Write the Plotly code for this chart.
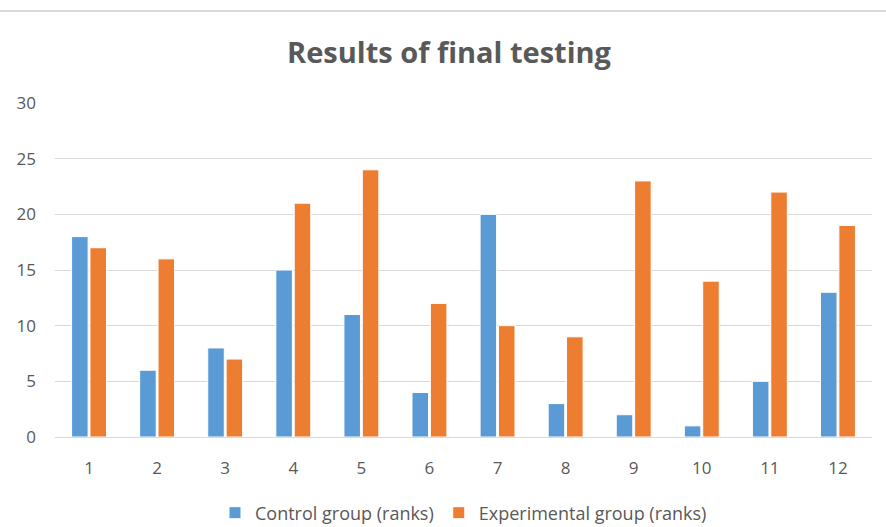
import plotly.graph_objects as go

categories = ["1", "2", "3", "4", "5", "6", "7", "8", "9", "10", "11", "12"]
control = [18, 6, 8, 15, 11, 4, 20, 3, 2, 1, 5, 13]
experimental = [17, 16, 7, 21, 24, 12, 10, 9, 23, 14, 22, 19]

W, H = 886, 527
L, R, T, B = 55, 14, 103, 90
PH = H - T - B

fig = go.Figure()
fig.add_trace(go.Bar(x=categories, y=control, name="Control group (ranks)",
                     marker=dict(color="#5B9BD5", line=dict(color="white", width=1))))
fig.add_trace(go.Bar(x=categories, y=experimental, name="Experimental group (ranks)",
                     marker=dict(color="#ED7D31", line=dict(color="white", width=1))))

fig.update_layout(
    width=W, height=H,
    margin=dict(l=L, r=R, t=T, b=B),
    paper_bgcolor="white", plot_bgcolor="white",
    barmode="group", bargap=0.46, bargroupgap=0.1,
    title=dict(text="Results of final testing", xref="container", x=449/W, xanchor="center",
               yref="container", y=1 - 53/H, yanchor="middle",
               font=dict(family="Open Sans", size=29, color="#595959", weight="bold")),
    font=dict(family="Open Sans", color="#595959"),
    xaxis=dict(showgrid=False, showline=True, linecolor="#D9D9D9", linewidth=1,
               tickfont=dict(size=17, color="#595959"), ticks="", ticklabelstandoff=16),
    yaxis=dict(range=[0, 30], dtick=5, showgrid=True, gridcolor="#D9D9D9", gridwidth=1,
               zeroline=False, tickfont=dict(size=17, color="#595959"), ticks="",
               ticklabelstandoff=18),
    legend=dict(orientation="h", x=0.5, xanchor="center",
                yref="container", y=(H - 513)/H, yanchor="middle",
                font=dict(size=18, color="#595959"), itemwidth=30, traceorder="normal"),
    showlegend=True,
    shapes=[dict(type="line", xref="paper", yref="paper", x0=-L/(W-L-R), x1=1 + R/(W-L-R),
                 y0=(H - B - 11)/PH, y1=(H - B - 11)/PH, line=dict(color="#D9D9D9", width=2))],
)

fig.write_html("out.html", config={"displayModeBar": False},
               post_script="document.body.style.margin='0';document.body.style.overflow='hidden';")
